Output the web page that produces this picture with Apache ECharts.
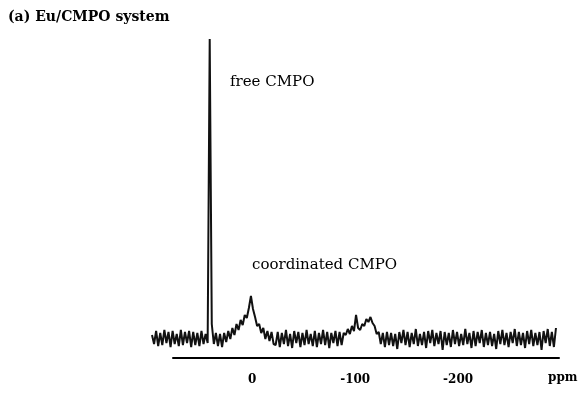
<!DOCTYPE html>
<html>
<head>
<meta charset="utf-8">
<script src="https://cdn.jsdelivr.net/npm/echarts@6/dist/echarts.min.js"></script>
<style>html,body{margin:0;padding:0;background:#fff}#c{width:582px;height:394px}</style>
</head>
<body>
<div id="c"></div>
<script>
// chemical shift (ppm), sampled every 2 ppm
const ppm = [
  97,95,93,91,89,87,85,83,81,79,
  77,75,73,71,69,67,65,63,61,59,
  57,55,53,51,49,47,45,43,41,39,
  37,35,33,31,29,27,25,23,21,19,
  17,15,13,11,9,7,5,3,1,-1,
  -3,-5,-7,-9,-11,-13,-15,-17,-19,-21,
  -23,-25,-27,-29,-31,-33,-35,-37,-39,-41,
  -43,-45,-47,-49,-51,-53,-55,-57,-59,-61,
  -63,-65,-67,-69,-71,-73,-75,-77,-79,-81,
  -83,-85,-87,-89,-91,-93,-95,-97,-99,-101,
  -103,-105,-107,-109,-111,-113,-115,-117,-119,-121,
  -123,-125,-127,-129,-131,-133,-135,-137,-139,-141,
  -143,-145,-147,-149,-151,-153,-155,-157,-159,-161,
  -163,-165,-167,-169,-171,-173,-175,-177,-179,-181,
  -183,-185,-187,-189,-191,-193,-195,-197,-199,-201,
  -203,-205,-207,-209,-211,-213,-215,-217,-219,-221,
  -223,-225,-227,-229,-231,-233,-235,-237,-239,-241,
  -243,-245,-247,-249,-251,-253,-255,-257,-259,-261,
  -263,-265,-267,-269,-271,-273,-275,-277,-279,-281,
  -283,-285,-287,-289,-291,-293,-295
];
// signal intensity (arbitrary units)
const intensity = [
  3,-6,7,-8,5,-7,8,-5,6,-9,
  7,-6,4,-8,8,-7,6,-5,7,-9,
  6,-7,5,-8,7,-6,4,-5,299,14,
  -6,5,-8,4,-9,5,-4,7,-1,10,
  3,14,8,18,13,23,20,30,42,29,
  21,12,14,5,10,-1,7,-3,6,-6,
  -7,6,-9,5,-6,8,-8,4,-10,7,
  -5,6,-9,5,-7,8,-6,4,-8,7,
  -9,5,-6,8,-7,6,-10,5,-5,7,
  -8,6,-7,5,3,9,4,12,7,23,
  10,8,14,12,19,16,21,15,12,4,
  6,-6,5,-9,6,-7,5,-8,4,-11,
  6,-5,8,-7,6,-9,5,-6,9,-8,
  4,-7,6,-10,7,-5,8,-8,5,-6,
  7,-12,6,-7,5,-9,8,-6,6,-8,
  4,-7,9,-6,5,-10,7,-8,6,-5,
  8,-9,5,-7,6,-8,4,-11,7,-6,
  8,-7,5,-9,6,-5,9,-8,6,-7,
  5,-10,7,-6,8,-8,5,-7,6,-12,
  7,-5,9,-8,6,-9,10
];
const tickValues = [0, -100, -200];
const axisUnit = 'ppm';
const titleText = '(a) Eu/CMPO system';
const labelFree = 'free CMPO';
const labelCoord = 'coordinated CMPO';

const serif = '"DejaVu Serif", "Liberation Serif", serif';
const chart = echarts.init(document.getElementById('c'), null, {renderer: 'canvas'});
chart.setOption({
  backgroundColor: '#fff',
  animation: false,
  grid: [
    {left: 152, right: 25, top: 38, height: 320},
    {left: 173, right: 23, top: 357, height: 1}
  ],
  xAxis: [
    {gridIndex: 0, type: 'value', inverse: true, min: -296, max: 97,
      axisLine: {show: false}, axisTick: {show: false}, axisLabel: {show: false}, splitLine: {show: false}},
    {gridIndex: 1, type: 'value', inverse: true, min: -298, max: 77,
      axisLine: {show: true, lineStyle: {color: '#000', width: 2}},
      axisTick: {show: false}, splitLine: {show: false},
      axisLabel: {show: true, customValues: tickValues, margin: 16,
        color: '#000', fontFamily: serif, fontWeight: 'bold', fontSize: 12}}
  ],
  yAxis: [
    {gridIndex: 0, type: 'value', min: -20, max: 300, show: false},
    {gridIndex: 1, type: 'value', min: 0, max: 1, show: false}
  ],
  series: [{
    type: 'line', xAxisIndex: 0, yAxisIndex: 0,
    data: ppm.map((p, i) => [p, intensity[i]]),
    showSymbol: false, symbol: 'none',
    lineStyle: {color: '#111', width: 2, join: 'bevel'},
    silent: true
  }],
  graphic: [
    {type: 'text', left: 8, top: 10, style: {text: titleText, font: 'bold 14px ' + serif, fill: '#000'}},
    {type: 'text', left: 230, top: 75, style: {text: labelFree, font: '15px ' + serif, fill: '#000'}},
    {type: 'text', left: 252, top: 258, style: {text: labelCoord, font: '15px ' + serif, fill: '#000'}},
    {type: 'text', left: 548, top: 372, style: {text: axisUnit, font: 'bold 12px ' + serif, fill: '#000'}}
  ]
});
</script>
</body>
</html>
